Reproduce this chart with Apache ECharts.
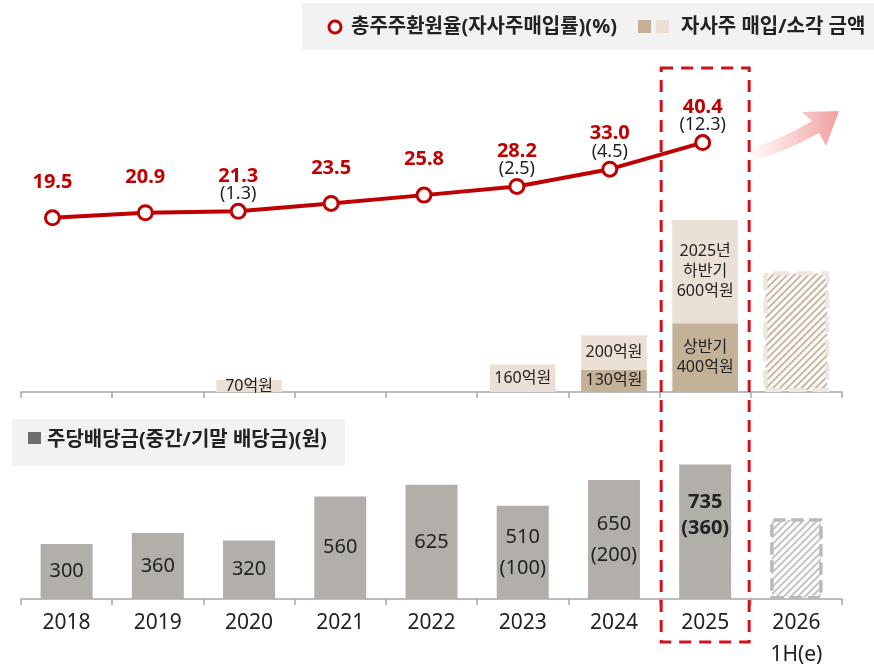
<!DOCTYPE html>
<html>
<head>
<meta charset="utf-8">
<script src="https://cdn.jsdelivr.net/npm/echarts@6/dist/echarts.min.js"></script>
<style>
  html, body { margin: 0; padding: 0; background: #fff; }
  #app { width: 874px; height: 666px; }
</style>
</head>
<body>
<div id="app"></div>
<script>
var years = ['2018', '2019', '2020', '2021', '2022', '2023', '2024', '2025', '2026\n1H(e)'];
// total shareholder return rate (%) and buyback rate (%)
var returnRate = [19.5, 20.9, 21.3, 23.5, 25.8, 28.2, 33.0, 40.4, null];
var buybackRate = [null, null, 1.3, null, null, 2.5, 4.5, 12.3, null];
// buyback / cancellation amount (억원)
var buybackFirst = [null, null, null, null, null, null, 130, 400, null];
var buybackSecond = [null, null, 70, null, null, 160, 200, 600, 700];
var buybackFirstTag = ['', '', '', '', '', '', '', '상반기\n', ''];
var buybackSecondTag = ['', '', '', '', '', '', '', '2025년\n하반기\n', ''];
// dividend per share (원) and interim part
var dps = [300, 360, 320, 560, 625, 510, 650, 735, 440];
var dpsInterim = [null, null, null, null, null, 100, 200, 360, null];
var estIndex = 8;   // 2026 1H(e) is an estimate -> hatched
var focusIndex = 7; // 2025 highlighted

var FONT = "'Noto Sans', 'Noto Sans CJK KR', sans-serif";
var RED = '#c00000';

var chart = echarts.init(document.getElementById('app'));

var axisGray = { color: '#a6a6a6', width: 1.5 };

function hatch(color) {
  return {
    symbol: 'rect',
    symbolSize: 1,
    color: color,
    dashArrayX: [1, 0],
    dashArrayY: [1.5, 2.5],
    rotation: -Math.PI / 4
  };
}

var secondData = buybackSecond.map(function (v, i) {
  if (i !== estIndex) return v;
  return {
    value: v,
    itemStyle: { color: '#fff', borderColor: '#eee7de', borderWidth: 4, borderType: 'dashed', decal: hatch('#c9b79f') },
    label: { show: false }
  };
});

var dpsData = dps.map(function (v, i) {
  if (i === estIndex) {
    return {
      value: v,
      itemStyle: { color: '#fff', borderColor: '#b9b9b9', borderWidth: 3, borderType: 'dashed', decal: hatch('#c4c4c4') },
      label: { show: false }
    };
  }
  if (i === focusIndex) {
    return { value: v, label: { position: 'insideTop', distance: 25, fontWeight: 'bold', lineHeight: 26 } };
  }
  return v;
});

var option = {
  animation: false,
  textStyle: { fontFamily: FONT },
  grid: [
    { left: 6, right: 32, top: 108, height: 180, outerBoundsMode: 'none' },
    { left: 21, right: 32, top: 220, height: 172, outerBoundsMode: 'none' },
    { left: 21, right: 32, top: 416, height: 183, outerBoundsMode: 'none' }
  ],
  xAxis: [
    { gridIndex: 0, type: 'category', data: years, show: false },
    {
      gridIndex: 1, type: 'category', data: years,
      axisLine: { lineStyle: axisGray },
      axisTick: { show: true, length: 6, lineStyle: axisGray },
      axisLabel: { show: false }
    },
    {
      gridIndex: 2, type: 'category', data: years,
      axisLine: { lineStyle: axisGray },
      axisTick: { show: true, length: 6, lineStyle: axisGray },
      axisLabel: { fontSize: 21, color: '#222', margin: 8, lineHeight: 32, fontFamily: FONT }
    }
  ],
  yAxis: [
    { gridIndex: 0, type: 'value', min: 0, max: 50, show: false },
    { gridIndex: 1, type: 'value', min: 0, max: 1000, show: false },
    { gridIndex: 2, type: 'value', min: 0, max: 1000, show: false }
  ],
  series: [
    {
      name: '자사주 매입(상반기)',
      type: 'bar',
      xAxisIndex: 1, yAxisIndex: 1,
      stack: 'bb',
      barWidth: '72%',
      data: buybackFirst,
      itemStyle: { color: '#c4b298' },
      label: {
        show: true, position: 'inside', fontSize: 16, color: '#222', lineHeight: 20,
        formatter: function (p) { return buybackFirstTag[p.dataIndex] + p.value + '억원'; }
      }
    },
    {
      name: '자사주 매입(하반기)',
      type: 'bar',
      xAxisIndex: 1, yAxisIndex: 1,
      stack: 'bb',
      barWidth: '72%',
      data: secondData,
      itemStyle: { color: '#ebe0d5' },
      label: {
        show: true, position: 'inside', fontSize: 16, color: '#222', lineHeight: 20,
        formatter: function (p) { return buybackSecondTag[p.dataIndex] + p.value + '억원'; }
      }
    },
    {
      name: '주당배당금',
      type: 'bar',
      xAxisIndex: 2, yAxisIndex: 2,
      barWidth: '57%',
      data: dpsData,
      itemStyle: { color: '#b2aeaa' },
      label: {
        show: true, position: 'inside', fontSize: 20, color: '#222', lineHeight: 31,
        formatter: function (p) {
          var s = String(p.value);
          var it = dpsInterim[p.dataIndex];
          if (it != null) s += '\n(' + it + ')';
          return s;
        }
      }
    },
    {
      name: '총주주환원율',
      type: 'line',
      xAxisIndex: 0, yAxisIndex: 0,
      data: returnRate,
      z: 10,
      symbol: 'circle',
      symbolSize: 14,
      lineStyle: { color: RED, width: 4 },
      itemStyle: { color: '#fff', borderColor: RED, borderWidth: 3 },
      label: {
        show: true, position: 'top', distance: 0,
        formatter: function (p) {
          var r = buybackRate[p.dataIndex];
          return '{a|' + p.value.toFixed(1) + '}\n' + (r != null ? '{b|(' + r.toFixed(1) + ')}' : '{c| }');
        },
        rich: {
          a: { fontSize: 20, fontWeight: 'bold', color: RED, lineHeight: 18, fontFamily: FONT },
          b: { fontSize: 18, color: '#222', lineHeight: 18, fontFamily: FONT },
          c: { fontSize: 12, lineHeight: 18 }
        }
      }
    }
  ]
};

chart.setOption(option);

// highlight box around 2025, placed from the axis
var cx = chart.convertToPixel({ xAxisIndex: 2 }, years[focusIndex]);

// decorative "growth" arrow at the top right
var arrowShape = [
  [745, 150], [762, 145], [779, 138], [796, 130], [812, 121],
  [802, 112], [839, 111], [826, 146], [819, 133],
  [802, 142], [784, 150], [765, 157], [745, 163]
];

chart.setOption({
  graphic: [
    {
      type: 'rect', z: 1,
      shape: { x: 302, y: 3, width: 572, height: 47 },
      style: { fill: '#f2f2f2' }
    },
    {
      type: 'circle', z: 2,
      shape: { cx: 335, cy: 27, r: 6 },
      style: { fill: '#fff', stroke: RED, lineWidth: 3 }
    },
    {
      type: 'text', z: 2, x: 351, y: 27,
      style: { text: '총주주환원율(자사주매입률)(%)', fill: '#222', font: 'bold 20px ' + FONT, verticalAlign: 'middle' }
    },
    { type: 'rect', z: 2, shape: { x: 638, y: 20, width: 13, height: 13 }, style: { fill: '#c4b198' } },
    { type: 'rect', z: 2, shape: { x: 656, y: 20, width: 13, height: 13 }, style: { fill: '#eae0d5' } },
    {
      type: 'text', z: 2, x: 681, y: 27,
      style: { text: '자사주 매입/소각 금액', fill: '#222', font: 'bold 20px ' + FONT, verticalAlign: 'middle' }
    },
    {
      type: 'rect', z: 1,
      shape: { x: 12, y: 419, width: 333, height: 47 },
      style: { fill: '#f2f2f2' }
    },
    { type: 'rect', z: 2, shape: { x: 28, y: 432, width: 13, height: 12 }, style: { fill: '#6e6e6e' } },
    {
      type: 'text', z: 2, x: 47, y: 440,
      style: { text: '주당배당금(중간/기말 배당금)(원)', fill: '#222', font: 'bold 20px ' + FONT, verticalAlign: 'middle' }
    },
    {
      type: 'rect', z: 20,
      shape: { x: cx - 44, y: 68, width: 88, height: 574 },
      style: { fill: 'none', stroke: '#d0121b', lineWidth: 3, lineDash: [12, 8] }
    },
    {
      type: 'polygon', z: 1,
      shape: { points: arrowShape },
      style: {
        fill: {
          type: 'linear', x: 0, y: 0, x2: 1, y2: 0, global: false,
          colorStops: [
            { offset: 0, color: 'rgba(244,166,166,0)' },
            { offset: 1, color: 'rgba(242,160,160,1)' }
          ]
        }
      }
    }
  ]
});
</script>
</body>
</html>
